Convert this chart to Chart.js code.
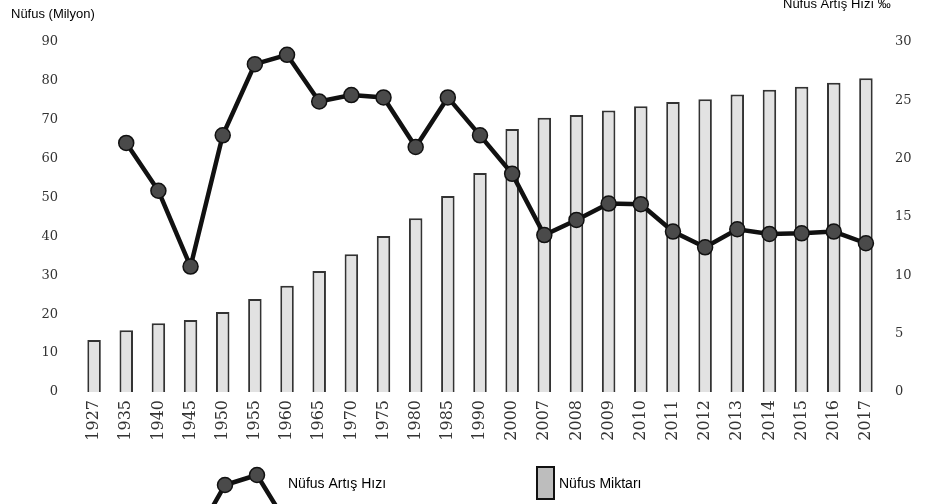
<!DOCTYPE html>
<html>
<head>
<meta charset="utf-8">
<script src="https://cdn.jsdelivr.net/npm/chart.js@4/dist/chart.umd.min.js"></script>
<style>
  html, body { margin: 0; padding: 0; background: #fff; }
  #wrap { width: 936px; height: 504px; position: relative; }
</style>
</head>
<body>
<div id="wrap"><canvas id="nufusChart" width="936" height="504"></canvas></div>
<script>
// yıllar
const years = ['1927','1935','1940','1945','1950','1955','1960','1965','1970','1975','1980','1985','1990','2000',
               '2007','2008','2009','2010','2011','2012','2013','2014','2015','2016','2017'];
// nüfus miktarı (milyon)
const nufusMiktari = [13.4, 15.9, 17.7, 18.5, 20.6, 23.9, 27.3, 31.1, 35.4, 40.1, 44.7, 50.4, 56.3, 67.6,
                      70.5, 71.2, 72.4, 73.5, 74.6, 75.3, 76.5, 77.7, 78.5, 79.5, 80.7];
// nüfus artış hızı (binde)
const artisHizi = [null, 21.35, 17.25, 10.75, 22.0, 28.1, 28.9, 24.9, 25.45, 25.25, 21.0, 25.25, 22.0, 18.7,
                   13.45, 14.75, 16.15, 16.1, 13.75, 12.4, 13.95, 13.55, 13.6, 13.75, 12.75];
const leftTicks = [0, 10, 20, 30, 40, 50, 60, 70, 80, 90];
const rightTicks = [0, 5, 10, 15, 20, 25, 30];

const tickFont = { family: 'DejaVu Serif', size: 13 };

// başlıklar ve alt açıklama
const extras = {
    id: 'extras',
    afterDraw(chart) {
        const ctx = chart.ctx;
        ctx.save();
        ctx.fillStyle = '#000';
        ctx.font = '13px "Liberation Sans", Arial, sans-serif';
        ctx.textBaseline = 'alphabetic';
        ctx.textAlign = 'left';
        ctx.fillText('Nüfus (Milyon)', 11, 18);
        ctx.fillText('Nüfus Artış Hızı ‰', 783, 8);

        // çizgi simgesi
        ctx.strokeStyle = '#111';
        ctx.lineWidth = 4.5;
        ctx.beginPath();
        ctx.moveTo(213, 506);
        ctx.lineTo(225, 485);
        ctx.lineTo(257, 475);
        ctx.lineTo(276, 506);
        ctx.stroke();
        [[225, 485], [257, 475]].forEach(p => {
            ctx.beginPath();
            ctx.arc(p[0], p[1], 7.5, 0, Math.PI * 2);
            ctx.fillStyle = '#4a4a4a';
            ctx.fill();
            ctx.lineWidth = 1.5;
            ctx.strokeStyle = '#111';
            ctx.stroke();
        });
        ctx.fillStyle = '#000';
        ctx.font = '14px "Liberation Sans", Arial, sans-serif';
        ctx.textBaseline = 'middle';
        ctx.fillText('Nüfus Artış Hızı', 288, 484);

        // sütun simgesi
        ctx.fillStyle = '#bdbdbd';
        ctx.fillRect(537, 467, 17, 32);
        ctx.lineWidth = 2;
        ctx.strokeStyle = '#111';
        ctx.strokeRect(537, 467, 17, 32);
        ctx.fillStyle = '#000';
        ctx.fillText('Nüfus Miktarı', 559, 484);
        ctx.restore();
    }
};

const ctx = document.getElementById('nufusChart').getContext('2d');
new Chart(ctx, {
    data: {
        labels: years,
        datasets: [
            {
                type: 'line',
                label: 'Nüfus Artış Hızı',
                data: artisHizi,
                yAxisID: 'y2',
                borderColor: '#111',
                borderWidth: 4.5,
                pointRadius: 7.5,
                pointBackgroundColor: '#4a4a4a',
                pointBorderColor: '#111',
                pointBorderWidth: 1.5,
                tension: 0,
                order: 0
            },
            {
                type: 'bar',
                label: 'Nüfus Miktarı',
                data: nufusMiktari,
                yAxisID: 'y',
                backgroundColor: '#e2e2e2',
                borderColor: '#333',
                borderWidth: 2,
                barPercentage: 0.42,
                categoryPercentage: 1,
                order: 1
            }
        ]
    },
    options: {
        responsive: false,
        animation: false,
        layout: { padding: { top: 42, right: 0, left: 0, bottom: 0 } },
        plugins: { legend: { display: false }, tooltip: { enabled: false } },
        scales: {
            x: {
                grid: { display: false, drawTicks: false },
                border: { display: false },
                ticks: { color: '#333', font: { family: 'DejaVu Serif', size: 16 }, minRotation: 90, maxRotation: 90, padding: 8 },
                afterFit: s => { s.height = 112; }
            },
            y: {
                position: 'left',
                min: 0, max: 90,
                grid: { display: false, drawTicks: false },
                border: { display: false },
                afterBuildTicks: s => { s.ticks = leftTicks.map(v => ({ value: v })); },
                ticks: { color: '#333', font: tickFont, padding: 20 },
                afterFit: s => { s.width = 78; }
            },
            y2: {
                position: 'right',
                min: 0, max: 30,
                grid: { display: false, drawTicks: false },
                border: { display: false },
                afterBuildTicks: s => { s.ticks = rightTicks.map(v => ({ value: v })); },
                ticks: { color: '#333', font: tickFont, padding: 13 },
                afterFit: s => { s.width = 54; }
            }
        }
    },
    plugins: [extras]
});
</script>
</body>
</html>
